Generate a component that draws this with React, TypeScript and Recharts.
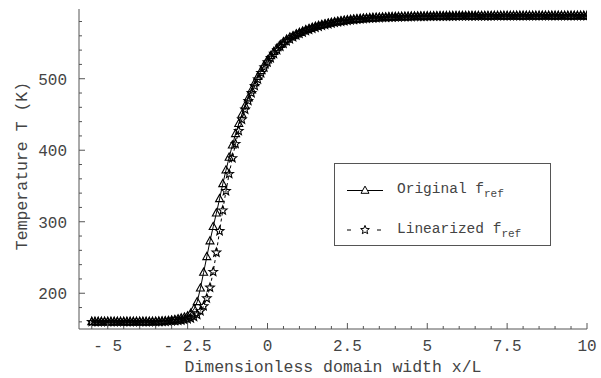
import { LineChart, Line, XAxis, YAxis } from "recharts";

// x/L grid (step 0.1)
const xValues = [
  -5.5, -5.4, -5.3, -5.2, -5.1, -5.0, -4.9, -4.8, -4.7, -4.6,
  -4.5, -4.4, -4.3, -4.2, -4.1, -4.0, -3.9, -3.8, -3.7, -3.6,
  -3.5, -3.4, -3.3, -3.2, -3.1, -3.0, -2.9, -2.8, -2.7, -2.6,
  -2.5, -2.4, -2.3, -2.2, -2.1, -2.0, -1.9, -1.8, -1.7, -1.6,
  -1.5, -1.4, -1.3, -1.2, -1.1, -1.0, -0.9, -0.8, -0.7, -0.6,
  -0.5, -0.4, -0.3, -0.2, -0.1, 0.0, 0.1, 0.2, 0.3, 0.4,
  0.5, 0.6, 0.7, 0.8, 0.9, 1.0, 1.1, 1.2, 1.3, 1.4,
  1.5, 1.6, 1.7, 1.8, 1.9, 2.0, 2.1, 2.2, 2.3, 2.4,
  2.5, 2.6, 2.7, 2.8, 2.9, 3.0, 3.1, 3.2, 3.3, 3.4,
  3.5, 3.6, 3.7, 3.8, 3.9, 4.0, 4.1, 4.2, 4.3, 4.4,
  4.5, 4.6, 4.7, 4.8, 4.9, 5.0, 5.1, 5.2, 5.3, 5.4,
  5.5, 5.6, 5.7, 5.8, 5.9, 6.0, 6.1, 6.2, 6.3, 6.4,
  6.5, 6.6, 6.7, 6.8, 6.9, 7.0, 7.1, 7.2, 7.3, 7.4,
  7.5, 7.6, 7.7, 7.8, 7.9, 8.0, 8.1, 8.2, 8.3, 8.4,
  8.5, 8.6, 8.7, 8.8, 8.9, 9.0, 9.1, 9.2, 9.3, 9.4,
  9.5, 9.6, 9.7, 9.8, 9.9, 10.0,
];

// temperature (K), original f_ref
const originalT = [
  160, 160, 160, 160, 160, 160, 160, 160, 160, 160,
  160, 160, 160, 160, 160, 160, 160, 160, 160, 160,
  160.2, 160.4, 160.7, 161.1, 161.6, 162.2, 163, 164, 165.2, 166.5,
  168, 172, 178, 188, 207, 229, 251, 273, 293, 312,
  332, 353, 372, 390, 407, 423, 437, 450, 462, 473,
  484, 494, 503, 511, 519, 526, 532, 538, 543, 547.5,
  551.5, 555, 558, 560, 562.5, 564.5, 566.5, 568.3, 570, 571.6,
  573, 574.3, 575.5, 576.6, 577.6, 578.5, 579.3, 580.1, 580.8, 581.4,
  582, 582.5, 583, 583.4, 583.8, 584.2, 584.5, 584.8, 585.1, 585.3,
  585.5, 585.7, 585.9, 586.1, 586.2, 586.4, 586.5, 586.6, 586.7, 586.8,
  586.9, 587, 587.1, 587.2, 587.2, 587.3, 587.3, 587.4, 587.4, 587.5,
  587.5, 587.5, 587.6, 587.6, 587.6, 587.7, 587.7, 587.7, 587.7, 587.8,
  587.8, 587.8, 587.8, 587.8, 587.8, 587.8, 587.8, 587.8, 587.8, 587.8,
  587.8, 587.8, 587.9, 587.9, 587.9, 587.9, 587.9, 587.9, 587.9, 587.9,
  588, 588, 588, 588, 588, 588, 588, 588, 588, 588,
  588, 588, 588, 588, 588, 588,
];

// temperature (K), linearized f_ref
const linearizedT = [
  160, 160, 160, 160, 160, 160, 160, 160, 160, 160,
  160, 160, 160, 160, 160, 160, 160, 160, 160, 160,
  160.1, 160.2, 160.3, 160.5, 160.7, 161, 161.3, 161.7, 162.2, 162.9,
  163.8, 165, 167, 170, 175, 182, 193, 208, 230, 257,
  287, 316, 343, 367, 389, 409, 427, 443, 457, 469,
  480, 490, 499, 508, 516, 523, 529, 535, 540, 545,
  549, 552.5, 555.5, 558.3, 560.8, 563, 565, 566.9, 568.6, 570.2,
  571.7, 573, 574.3, 575.4, 576.5, 577.5, 578.4, 579.2, 580, 580.7,
  581.3, 581.9, 582.4, 582.9, 583.3, 583.7, 584.1, 584.4, 584.7, 585,
  585.2, 585.4, 585.6, 585.8, 586, 586.1, 586.3, 586.4, 586.5, 586.6,
  586.7, 586.8, 586.9, 587, 587, 587.1, 587.1, 587.2, 587.2, 587.3,
  587.3, 587.4, 587.4, 587.4, 587.5, 587.5, 587.5, 587.6, 587.6, 587.6,
  587.6, 587.7, 587.7, 587.7, 587.7, 587.7, 587.8, 587.8, 587.8, 587.8,
  587.8, 587.8, 587.8, 587.8, 587.8, 587.8, 587.8, 587.8, 587.8, 587.8,
  587.9, 587.9, 587.9, 587.9, 587.9, 588, 588, 588, 588, 588,
  588, 588, 588, 588, 588, 588,
];

const xTicks = [
  -5.5, -5, -4.5, -4, -3.5, -3, -2.5, -2, -1.5, -1, -0.5, 0, 0.5, 1, 1.5, 2,
  2.5, 3, 3.5, 4, 4.5, 5, 5.5, 6, 6.5, 7, 7.5, 8, 8.5, 9, 9.5, 10,
];
const xMajor = [-5, -2.5, 0, 2.5, 5, 7.5, 10];
const yTicks = [
  160, 180, 200, 220, 240, 260, 280, 300, 320, 340, 360, 380, 400, 420, 440,
  460, 480, 500, 520, 540, 560, 580,
];
const yMajor = [200, 300, 400, 500];

const data = xValues.map((x, i) => ({
  x,
  original: originalT[i],
  linearized: linearizedT[i],
}));

const FONT = "'Liberation Mono', 'Courier New', monospace";
const FRAME = "#555";
const TEXT = "#444";
const MARGIN = 10;
const MAJOR_LEN = 6;
const MINOR_LEN = 3;

const fmt = (v: number) => (v < 0 ? `- ${-v}` : `${v}`);

function BottomTick(props: any) {
  const { x, y, payload } = props;
  const major = xMajor.includes(payload.value);
  const y0 = y - MARGIN;
  return (
    <g>
      <line x1={x} x2={x} y1={y0} y2={y0 - (major ? MAJOR_LEN : MINOR_LEN)} stroke={FRAME} />
      {major && (
        <text x={x} y={y0 + 22} textAnchor="middle" fontFamily={FONT} fontSize={16} fill={TEXT}>
          {fmt(payload.value)}
        </text>
      )}
    </g>
  );
}

function TopTick(props: any) {
  const { x, y, payload } = props;
  const major = xMajor.includes(payload.value);
  return <line x1={x} x2={x} y1={y} y2={y + (major ? MAJOR_LEN : MINOR_LEN)} stroke={FRAME} />;
}

function LeftTick(props: any) {
  const { x, y, payload } = props;
  const major = yMajor.includes(payload.value);
  const x0 = x + MARGIN;
  return (
    <g>
      <line x1={x0} x2={x0 + (major ? MAJOR_LEN : MINOR_LEN)} y1={y} y2={y} stroke={FRAME} />
      {major && (
        <text x={x0 - 12} y={y + 6} textAnchor="end" fontFamily={FONT} fontSize={16} fill={TEXT}>
          {payload.value}
        </text>
      )}
    </g>
  );
}

function RightTick(props: any) {
  const { x, y, payload } = props;
  const major = yMajor.includes(payload.value);
  return <line x1={x} x2={x - (major ? MAJOR_LEN : MINOR_LEN)} y1={y} y2={y} stroke={FRAME} />;
}

const triangle = (cx: number, cy: number) =>
  `M${cx},${cy - 4.4}L${cx + 4},${cy + 2.8}L${cx - 4},${cy + 2.8}Z`;

const star = (cx: number, cy: number) => {
  let d = "";
  for (let k = 0; k < 10; k++) {
    const r = k % 2 === 0 ? 4.6 : 2;
    const a = -Math.PI / 2 + (k * Math.PI) / 5;
    d += `${k === 0 ? "M" : "L"}${cx + r * Math.cos(a)},${cy + r * Math.sin(a)}`;
  }
  return d + "Z";
};

const TriangleDot = (p: any) => (
  <path key={`t${p.index}`} d={triangle(p.cx, p.cy)} fill="none" stroke="#000" strokeWidth={1.1} />
);
const StarDot = (p: any) => (
  <path key={`s${p.index}`} d={star(p.cx, p.cy)} fill="none" stroke="#000" strokeWidth={1.1} />
);

function LegendBox() {
  return (
    <svg
      width={217}
      height={83}
      style={{ position: "absolute", left: 334, top: 163 }}
    >
      <rect x={0.5} y={0.5} width={216} height={82} fill="#fff" stroke={FRAME} />
      <line x1={13} x2={49} y1={27.5} y2={27.5} stroke="#000" />
      <path d={triangle(31, 27.5)} fill="#fff" stroke="#000" strokeWidth={1} />
      <text x={63} y={30} fontFamily={FONT} fontSize={14.5} fill={TEXT}>
        Original f
        <tspan fontSize={11} dy={4}>ref</tspan>
      </text>
      <line x1={13} x2={49} y1={67} y2={67} stroke="#000" strokeDasharray="4 11" />
      <path d={star(31, 67)} fill="#fff" stroke="#000" strokeWidth={1} />
      <text x={63} y={70} fontFamily={FONT} fontSize={14.5} fill={TEXT}>
        Linearized f
        <tspan fontSize={11} dy={4}>ref</tspan>
      </text>
    </svg>
  );
}

export default function App() {
  return (
    <div style={{ position: "absolute", left: 0, top: 0, width: 601, height: 378, background: "#fff" }}>
      <LineChart width={601} height={378} data={data} margin={{ top: 9, right: 14, bottom: 0, left: 0 }}>
        <XAxis
          dataKey="x"
          type="number"
          domain={[-5.9, 10]}
          allowDataOverflow
          ticks={xTicks}
          interval={0}
          height={49}
          tickSize={0}
          tickMargin={MARGIN}
          tick={<BottomTick />}
          axisLine={{ stroke: FRAME }}
          label={{
            content: () => (
              <text x={333} y={372} textAnchor="middle" fontFamily={FONT} fontSize={16.5} fill={TEXT}>
                Dimensionless domain width x/L
              </text>
            ),
          }}
        />
        <XAxis
          xAxisId="top"
          orientation="top"
          type="number"
          domain={[-5.9, 10]}
          allowDataOverflow
          ticks={xTicks}
          interval={0}
          height={0}
          tickSize={0}
          tickMargin={0}
          tick={<TopTick />}
          axisLine={{ stroke: FRAME }}
        />
        <YAxis
          type="number"
          domain={[150, 597.5]}
          allowDataOverflow
          ticks={yTicks}
          interval={0}
          width={79}
          tickSize={0}
          tickMargin={MARGIN}
          tick={<LeftTick />}
          axisLine={{ stroke: FRAME }}
          label={{
            content: () => (
              <text
                transform="translate(27,166) rotate(-90)"
                textAnchor="middle"
                fontFamily={FONT}
                fontSize={16.5}
                fill={TEXT}
              >
                Temperature T (K)
              </text>
            ),
          }}
        />
        <YAxis
          yAxisId="right"
          orientation="right"
          type="number"
          domain={[150, 597.5]}
          allowDataOverflow
          ticks={yTicks}
          interval={0}
          width={0}
          tickSize={0}
          tickMargin={0}
          tick={<RightTick />}
          axisLine={{ stroke: FRAME }}
        />
        <Line
          dataKey="original"
          stroke="#000"
          strokeWidth={1}
          dot={TriangleDot}
          activeDot={false}
          isAnimationActive={false}
        />
        <Line
          dataKey="linearized"
          stroke="#000"
          strokeWidth={1}
          strokeDasharray="3 3"
          dot={StarDot}
          activeDot={false}
          isAnimationActive={false}
        />
      </LineChart>
      <LegendBox />
    </div>
  );
}
